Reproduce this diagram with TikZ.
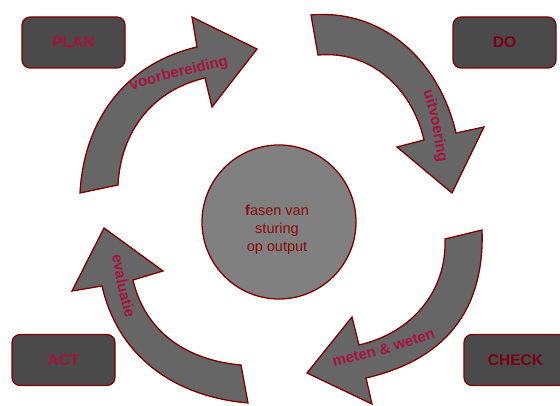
\documentclass[tikz,border=0pt]{standalone}
\usepackage{fontspec}
\setmainfont{Liberation Sans}
\usetikzlibrary{decorations.text}

\definecolor{edge}{HTML}{800000}
\definecolor{shaft}{HTML}{666666}
\definecolor{hubgray}{HTML}{808080}
\definecolor{boxfill}{HTML}{4A4A4A}
\definecolor{redA}{HTML}{A8123E}
\definecolor{redB}{HTML}{7C0012}
\definecolor{hubtext}{HTML}{8B0A0A}

\newcommand\arclabelfont{\fontsize{15}{18}\selectfont\bfseries\color{redA}}

\begin{document}
\begin{tikzpicture}[x=1pt,y=1pt,
  phase/.style={draw=edge, line width=1.2pt, fill=boxfill, rounded corners=8pt,
    minimum width=103pt, minimum height=51pt, inner sep=0pt,
    font=\fontsize{15.5}{18}\selectfont\bfseries},
  bendarrow/.style={draw=edge, line width=1.3pt, fill=shaft, line join=miter},
  arclabel/.style={decorate, decoration={text along path, text align=center,
    text={|\arclabelfont|#1}}}
]
\useasboundingbox (0,0) rectangle (560,406);
\clip (0,0) rectangle (560,406);

% phase boxes in the corners
\node[phase, text=redA] (plan)  at (73.5,363.5) {PLAN};
\node[phase, text=redB] (do)    at (504.5,363.5) {DO};
\node[phase, text=redA] (act)   at (63.5,46) {ACT};
\node[phase, text=redB] (check) at (515.5,46) {CHECK};

% central disc
\node[circle, draw=edge, fill=hubgray, line width=1.3pt, minimum size=154pt,
  inner sep=0pt] (hub) at (279,184) {};
\node[align=center, text=hubtext, font=\fontsize{14.5}{18}\selectfont]
  (hublabel) at ([xshift=-2pt,yshift=-8pt]hub.center)
  {\textbf{f}asen van\\sturing\\op output};

% curved block arrows around the disc
\draw[bendarrow] (80,213) -- (118,221) to[out=87,in=193] (205,328)
  -- (212,299) -- (257,357) -- (192,389) -- (197,359)
  to[out=193,in=87] (80,213) -- cycle;
\draw[bendarrow] (311,391) -- (318,351) to[out=5,in=103] (424,266)
  -- (397,259) -- (452,213) -- (484,279) -- (456,273)
  to[out=103,in=5] (311,391) -- cycle;
\draw[bendarrow] (482,176) -- (445,167) to[out=-88,in=13] (359,61)
  -- (352,89) -- (307,33) -- (372,2) -- (366,28)
  to[out=13,in=-88,looseness=1.1] (482,176) -- cycle;
\draw[bendarrow] (248,3) -- (241,41) to[out=175,in=-77] (133,126)
  -- (163,135) -- (104,178) -- (72,115) -- (102,120)
  to[out=-77,in=175] (248,3) -- cycle;

% labels along the arrows
\path[arclabel={voorbereiding}] (117,310.5) to[out=20,in=194] (243.6,344.4);
\path[arclabel={uitvoering}] (420,324) to[out=-70,in=100] (440,233);
\path[arclabel={meten {\&} weten}] (320,36) to[out=13,in=200] (449,73);
\path[arclabel={evaluatie}] (110,163) to[out=-80,in=110] (130,76);
\end{tikzpicture}
\end{document}
